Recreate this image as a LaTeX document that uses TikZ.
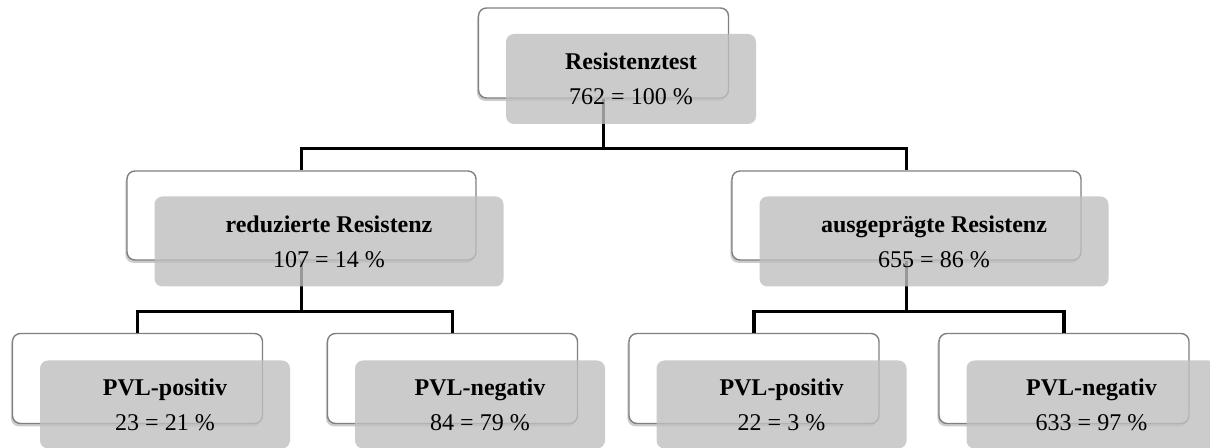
\documentclass[tikz,border=0pt]{standalone}
\usepackage{fontspec}
\setmainfont{Liberation Serif}
\usetikzlibrary{positioning,shadows,calc}
\definecolor{rahmengrau}{RGB}{128,128,128}
\definecolor{kastengrau}{RGB}{191,191,191}
\tikzset{
  rahmen/.style={draw=rahmengrau,line width=0.7pt,fill=white,rounded corners=4pt,
    drop shadow={shadow xshift=-0.8pt,shadow yshift=-1.4pt,opacity=0.4}},
  kasten/.style={fill=kastengrau,fill opacity=0.8,text opacity=1,rounded corners=4pt,
    minimum width=125pt,minimum height=44pt,align=center,inner sep=0pt,
    font=\fontsize{12}{17.5}\selectfont},
  verbinder/.style={line width=1.8pt,color=black},
}

\begin{document}
\begin{tikzpicture}[x=0.5pt,y=-0.5pt]
\clip (0,0) rectangle (1210,448);
% weisse Rahmen
\node[rahmen,minimum width=125pt,minimum height=45pt] (test) at (603.5,53) {};
\node[rahmen,minimum width=174.5pt,minimum height=44.5pt] (red) at (301.5,215.5) {};
\node[rahmen,minimum width=174.5pt,minimum height=44.5pt] (aus) at (906.5,215.5) {};
\foreach \n/\x in {redpos/137.5,redneg/452.5,auspos/754,ausneg/1064}
  \node[rahmen,minimum width=125pt,minimum height=45pt] (\n) at (\x,378.5) {};
% Verbinder
\draw[verbinder] (test.south) -- ++(0,-25pt) coordinate (testab)
  (red.north) |- (testab) -| (aus.north);
\draw[verbinder] (red.south) -- ++(0,-25.5pt) coordinate (redab)
  (redpos.north) |- (redab) -| (redneg.north);
\draw[verbinder] (aus.south) -- ++(0,-25.5pt) coordinate (ausab)
  (auspos.north) |- (ausab) -| (ausneg.north);
% graue Kaesten
\node[kasten,minimum height=45pt] (testg) at ([shift={(13.75pt,-13pt)}]test)
  {\textbf{Resistenztest}\\762 = 100 \%};
\node[kasten,minimum width=174.5pt,minimum height=45pt] (redg) at ([shift={(13.75pt,-13pt)}]red)
  {\textbf{reduzierte Resistenz}\\107 = 14 \%};
\node[kasten,minimum width=174.5pt,minimum height=45pt] (ausg) at ([shift={(13.75pt,-13pt)}]aus)
  {\textbf{ausgeprägte Resistenz}\\655 = 86 \%};
\foreach \n/\t/\z in {redpos/PVL-positiv/23 = 21,redneg/PVL-negativ/84 = 79,
                      auspos/PVL-positiv/22 = 3,ausneg/PVL-negativ/633 = 97}
  \node[kasten] (\n g) at ([shift={(13.75pt,-13pt)}]\n) {\textbf{\t}\\\z\ \%};
\end{tikzpicture}
\end{document}
